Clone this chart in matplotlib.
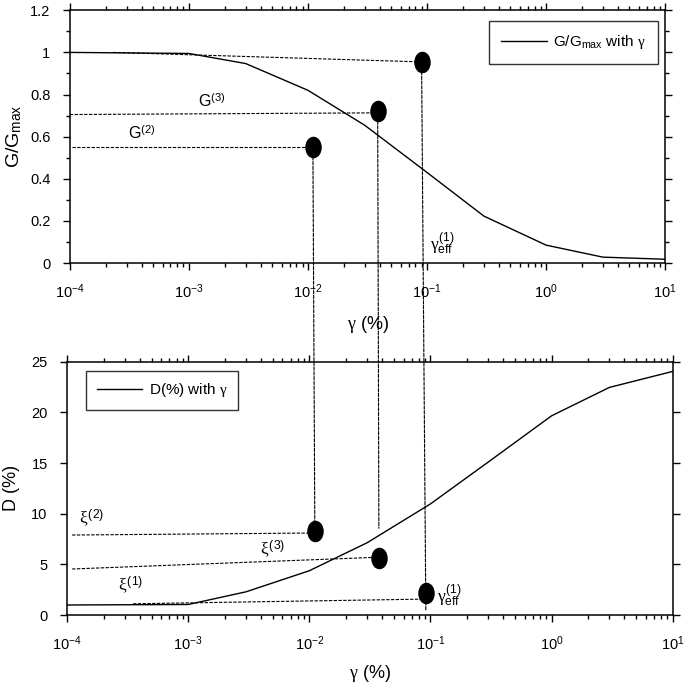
# G/Gmax and damping D vs shear strain gamma, two stacked log-x panels
import numpy as np
import matplotlib
matplotlib.use('Agg')
import matplotlib.pyplot as plt
from matplotlib.path import Path
from matplotlib.transforms import Affine2D
from matplotlib.patches import ConnectionPatch

plt.rcParams['font.family'] = ['Liberation Sans', 'DejaVu Sans']
plt.rcParams['mathtext.fontset'] = 'custom'
plt.rcParams['mathtext.rm'] = 'Liberation Sans'
plt.rcParams['mathtext.it'] = 'Liberation Serif'
plt.rcParams['mathtext.bf'] = 'Liberation Sans:bold'
plt.rcParams['axes.unicode_minus'] = False

# curves
gamma = [1e-4, 1e-3, 3e-3, 1e-2, 3e-2, 1e-1, 3e-1, 1, 3, 10]
g_ratio = [1.0, 0.995, 0.947, 0.82, 0.654, 0.43, 0.223, 0.085, 0.028, 0.018]
damping = [1.0, 1.05, 2.3, 4.38, 7.14, 10.97, 15.1, 19.66, 22.46, 24.04]

# marked points (G(2), G(3), gamma_eff) and their D counterparts
pt_gamma_top = [0.011, 0.0385, 0.090]
pt_g = [0.55, 0.72, 0.955]
pt_gamma_bot = [0.0111, 0.0375, 0.0916]
pt_d = [8.3, 5.63, 2.14]

# dashed guide lines: (x0, y0, x1, y1)
guides_top = [(2.3e-4, 1.0, 0.088, 0.955),
              (1.0e-4, 0.705, 0.036, 0.713),
              (1.05e-4, 0.55, 0.0105, 0.55)]
guides_bot = [(1.1e-4, 7.9, 0.0105, 8.1),
              (1.1e-4, 4.55, 0.035, 5.7),
              (3.5e-4, 1.12, 0.088, 1.58)]
# vertical links: (gamma top, G top, gamma bottom, D bottom)
links = [(0.011, 0.55, 0.0111, 8.3),
         (0.0385, 0.72, 0.0375, 8.57),
         (0.090, 0.955, 0.0916, 0.5)]

ell = Path.unit_circle().transformed(Affine2D().scale(0.75, 1.0))

fig = plt.figure(figsize=(6.85, 6.85), dpi=100)
ax1 = fig.add_axes([0.102, 0.616, 0.869, 0.369])
ax2 = fig.add_axes([0.098, 0.102, 0.884, 0.370])

dash = (0, (3, 1.3))
for ax in (ax1, ax2):
    ax.set_xscale('log')
    ax.set_xlim(1e-4, 10)
    ax.tick_params(which='both', direction='out', top=True, right=True,
                   labelsize=10.5, width=1.0, pad=9)
    ax.tick_params(which='major', length=5)
    ax.tick_params(which='minor', length=3)
    for s in ax.spines.values():
        s.set_linewidth(1.1)

ax1.plot(gamma, g_ratio, 'k-', lw=1.0, label=r'G/G$_{\mathrm{max}}$ with $\gamma$')
ax1.set_ylim(0, 1.2)
ax1.set_yticks([0, 0.2, 0.4, 0.6, 0.8, 1.0, 1.2])
ax1.set_yticklabels(['0', '0.2', '0.4', '0.6', '0.8', '1', '1.2'])
ax1.set_yticks(np.arange(0.1, 1.2, 0.2), minor=True)
ax1.set_ylabel(r'G/G$_{\mathrm{max}}$', fontsize=14, labelpad=4)
ax1.set_xlabel(r'$\gamma$ (%)', fontsize=13, labelpad=9)
for x0, y0, x1, y1 in guides_top:
    ax1.plot([x0, x1], [y0, y1], color='k', lw=0.8, ls=dash)
ax1.plot(pt_gamma_top, pt_g, ls='none', marker=ell, ms=14.5, color='k')
ax1.text(1.2e-3, 0.74, r'G$^{(3)}$', fontsize=11.5)
ax1.text(3.1e-4, 0.588, r'G$^{(2)}$', fontsize=11.5)
ax1.text(0.105, 0.06, r'$\gamma^{(1)}_{\mathrm{eff}}$', fontsize=12.5)
ax1.legend(loc='upper right', fontsize=11, frameon=True, fancybox=False,
           edgecolor='k', handlelength=3, handletextpad=0.4, borderpad=0.8,
           borderaxespad=0,
           bbox_to_anchor=(0.988, 0.957)).get_frame().set_linewidth(1.0)

ax2.plot(gamma, damping, 'k-', lw=1.0, label=r'D(%) with $\gamma$')
ax2.set_ylim(0, 25)
ax2.set_yticks([0, 5, 10, 15, 20, 25])
ax2.set_ylabel('D (%)', fontsize=13, labelpad=8)
ax2.set_xlabel(r'$\gamma$ (%)', fontsize=13, labelpad=7)
for x0, y0, x1, y1 in guides_bot:
    ax2.plot([x0, x1], [y0, y1], color='k', lw=0.8, ls=dash)
ax2.plot(pt_gamma_bot, pt_d, ls='none', marker=ell, ms=14.5, color='k')
ax2.text(1.25e-4, 9.0, r'$\xi^{(2)}$', fontsize=12.5)
ax2.text(3.9e-3, 6.0, r'$\xi^{(3)}$', fontsize=12.5)
ax2.text(2.64e-4, 2.4, r'$\xi^{(1)}$', fontsize=12.5)
ax2.text(0.113, 1.3, r'$\gamma^{(1)}_{\mathrm{eff}}$', fontsize=12.5)
ax2.legend(loc='upper left', fontsize=11, frameon=True, fancybox=False,
           edgecolor='k', handlelength=3, handletextpad=0.4, borderpad=0.7,
           borderaxespad=0,
           bbox_to_anchor=(0.031, 0.964)).get_frame().set_linewidth(1.0)

for gt, gv, gb, dv in links:
    con = ConnectionPatch(xyA=(gt, gv), coordsA=ax1.transData,
                          xyB=(gb, dv), coordsB=ax2.transData,
                          color='k', lw=0.8, ls=dash, zorder=1)
    fig.add_artist(con)

fig.savefig('out.png', dpi=100)
